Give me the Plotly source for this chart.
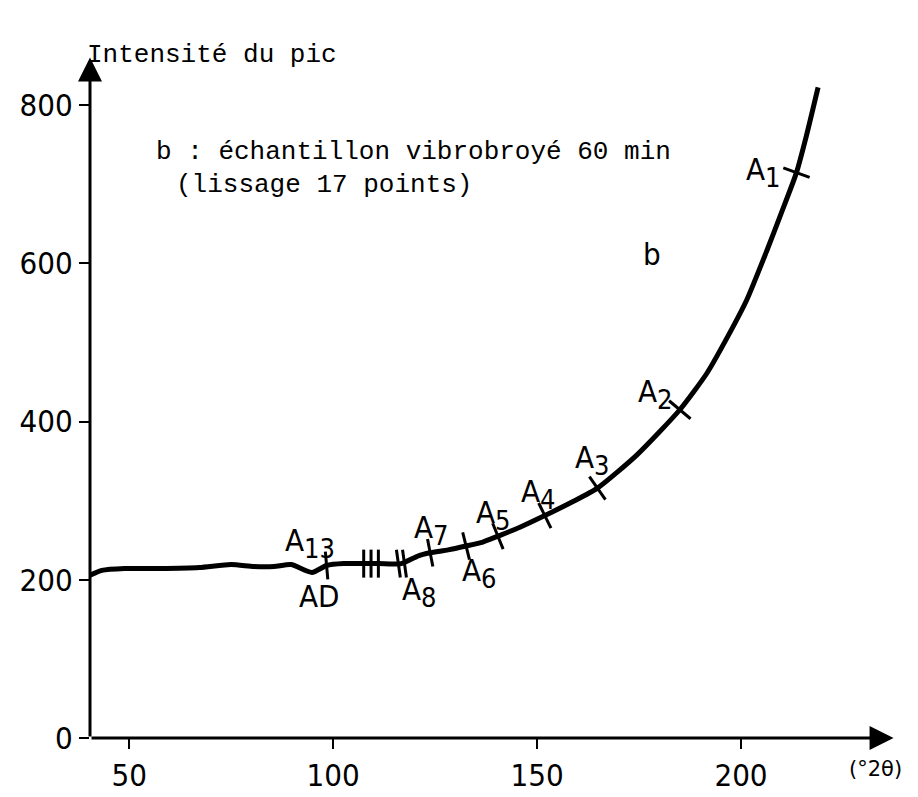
import plotly.graph_objects as go

# courbe lissée (lecture sur le graphique)
theta = [40.4, 43.3, 48.9, 57.5, 67.2, 75.0, 80.6, 85.5, 89.7, 94.8, 98.4,
         102.6, 111.1, 116.7, 120.9, 123.8, 128.2, 132.6, 136.7, 140.4, 145.8,
         151.9, 158.7, 164.8, 174.5, 185.0, 191.6, 196.0, 201.4, 206.3, 209.9,
         213.6, 216.0, 218.9]
intensite = [205.6, 211.8, 214.2, 214.2, 215.5, 219.2, 216.7, 216.7, 219.2,
             209.3, 218.0, 220.4, 220.4, 220.4, 230.3, 234.1, 237.8, 242.7,
             247.7, 255.1, 266.3, 281.1, 298.5, 315.8, 357.9, 414.9, 460.7,
             500.3, 553.6, 615.5, 663.8, 714.6, 760.4, 822.3]

# repères sur la courbe
tick_x = [98.4, 107.5, 109.3, 111.1, 116.0, 117.5, 123.8, 132.6, 140.4, 151.9, 164.8, 185.0, 213.6]
tick_y = [218.0, 220.4, 220.4, 220.4, 220.4, 220.4, 234.1, 242.7, 255.1, 281.1, 315.8, 414.9, 714.6]
tick_angle = [-5, 0, 0, 0, -8, -8, -11, -14, -22, -26, -35, -50, -70]

# étiquettes des pics
labels = ["A", "AD", "A", "A", "A", "A", "A", "A", "A", "A", "b"]
label_sub = ["13", "", "8", "7", "6", "5", "4", "3", "2", "1", ""]
label_x = [94.3, 96.7, 121.1, 124.1, 135.8, 139.2, 150.4, 163.6, 179.0, 205.5, 178.2]
label_y = [246.4, 179.6, 184.5, 262.5, 208.0, 282.4, 308.4, 351.7, 434.7, 715.8, 611.8]

x_ticks = [50, 100, 150, 200]
y_ticks = [0, 200, 400, 600, 800]

narrow = "Liberation Sans Narrow, Arial Narrow, DejaVu Sans Condensed, Roboto, sans-serif"
mono = "Liberation Mono, DejaVu Sans Mono, monospace"

fig = go.Figure()
fig.add_trace(go.Scatter(x=theta, y=intensite, mode="lines",
                         line=dict(color="black", width=5, shape="spline", smoothing=0.6),
                         hoverinfo="skip"))
fig.add_trace(go.Scatter(x=tick_x, y=tick_y, mode="markers",
                         marker=dict(symbol="line-ns", size=20, angle=tick_angle,
                                     line=dict(color="black", width=3)),
                         hoverinfo="skip"))

for t, s, x, y in zip(labels, label_sub, label_x, label_y):
    txt = t if not s else f"{t}<sub><span style='font-size:27px'>{s}</span></sub>"
    fig.add_annotation(x=x, y=y, text=txt, showarrow=False,
                       font=dict(family=narrow, size=31, color="black"))

# axes avec flèches
fig.add_annotation(x=237.4, y=0, ax=40.4, ay=0, xref="x", yref="y", axref="x", ayref="y",
                   text="", showarrow=True, arrowhead=2, arrowsize=1.6, arrowwidth=3,
                   arrowcolor="black")
fig.add_annotation(x=40.4, y=860, ax=40.4, ay=0, xref="x", yref="y", axref="x", ayref="y",
                   text="", showarrow=True, arrowhead=2, arrowsize=1.6, arrowwidth=3,
                   arrowcolor="black")

fig.add_annotation(x=-0.006, y=1.026, xref="paper", yref="paper", xanchor="left",
                   text="Intensité du pic", showarrow=False,
                   font=dict(family=mono, size=26, color="black"))
fig.add_annotation(x=56.1, y=741, xanchor="left", text="b : échantillon vibrobroyé 60 min",
                   showarrow=False, font=dict(family=mono, size=26, color="black"))
fig.add_annotation(x=61.1, y=698.5, xanchor="left", text="(lissage 17 points)",
                   showarrow=False, font=dict(family=mono, size=26, color="black"))
fig.add_annotation(x=0.975, y=-0.046, xref="paper", yref="paper", xanchor="center",
                   yanchor="middle", text="(°2θ)", showarrow=False,
                   font=dict(family="DejaVu Sans", size=21, color="black"))

fig.update_xaxes(range=[40.4, 238], tickvals=x_ticks, ticks="outside", ticklen=10,
                 tickwidth=2, tickcolor="black", showgrid=False, zeroline=False,
                 showline=False, tickfont=dict(family=narrow, size=31, color="black"))
fig.update_yaxes(range=[0, 862], tickvals=y_ticks, ticks="outside", ticklen=10,
                 tickwidth=2, tickcolor="black", showgrid=False, zeroline=False,
                 showline=False, tickfont=dict(family=narrow, size=31, color="black"))

fig.update_layout(width=918, height=797, showlegend=False,
                  margin=dict(l=80, r=30, t=48, b=53),
                  plot_bgcolor="white", paper_bgcolor="white")

fig.write_html("out.html")
